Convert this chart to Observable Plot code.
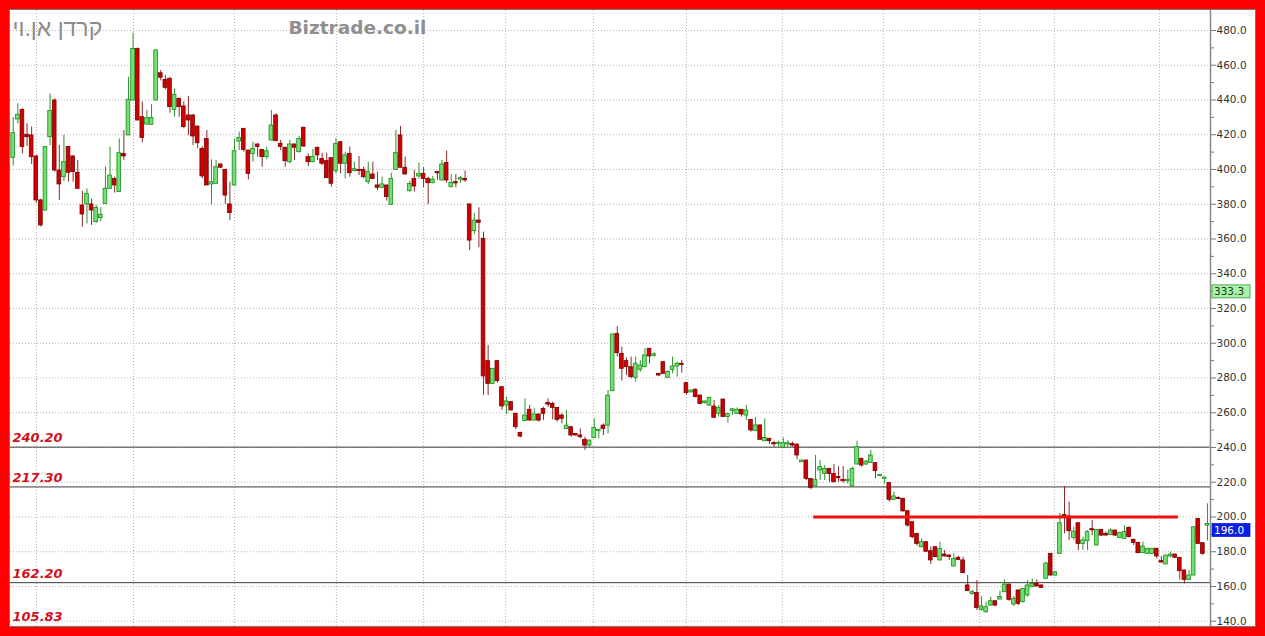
<!DOCTYPE html>
<html><head><meta charset="utf-8">
<script src="https://cdn.jsdelivr.net/npm/d3@7"></script>
<script src="https://cdn.jsdelivr.net/npm/@observablehq/plot@0.6"></script>
<style>
html,body{margin:0;padding:0;background:#ff0000;width:1265px;height:636px;overflow:hidden}
#panel{position:absolute;left:10px;top:10px;width:1245px;height:616px;background:#fff;box-shadow:0 0 0 1px #777}
#panel svg{display:block}
</style></head><body><div id="panel"></div>
<script>
const title = "קרדן אן.וי";
const watermark = "Biztrade.co.il";

const open = [
406.7,428.8,434.3,420,419.6,407.5,382.2,376.4,418.6,439.7,
399.4,395.6,412.9,407.5,398.1,379.3,379.9,379.9,369.7,372,
380.2,388.9,394.6,387,409,419.6,439.7,469.4,430.1,425.9,
425.7,439.7,455.4,451.6,452.2,434.3,440.7,436.3,431.1,431.1,
424.7,411.9,417.6,391.4,391.7,402.9,399.8,379.9,390.8,416.1,
423.4,410.9,409,414.4,411.3,407.1,416.7,431.1,414.8,412.5,
404.2,414.4,410,424,407.1,404.2,412.5,406.1,404.8,406.5,
399,415.7,403.3,409,399.1,399.8,399.8,392.7,397.1,390.8,
389.5,390.8,379.7,399.8,419.6,401,387.5,394.6,396,397.5,
394.6,392.1,398.5,393.7,403.7,389.8,392.7,394.2,394.6,379.9,
364.5,370.6,360.1,289.7,276.6,289.7,274.7,264.2,266.1,259.4,
248.4,255.2,261.7,255.5,259,262.2,265.7,265.1,262.8,258.4,
250.7,251.7,247.8,246.9,244.4,241.1,245.5,249.4,252.6,252.6,
272.4,305.4,293.9,289.7,286.2,280.1,284.7,286.2,296.8,292.8,
282.4,289.1,280.1,284.7,286.6,288.2,277,271.7,273.2,269.9,
265.5,264.2,263.6,259.4,267.6,257.5,261,259.4,261.7,258.4,
255.9,249.4,252.7,243.6,245,242.5,242,239.8,241.7,242.1,
241.7,231.5,232.5,221.9,217.6,226.8,224.8,227.7,224.8,223,
221.4,220.6,217.6,230.2,233.5,230.2,231.1,231,223.6,222,
219.5,209.9,211,210.5,203.3,197,190.3,182.6,185.5,180.3,
182.6,175,178.4,177.8,171.5,176.5,175,160.6,155.8,156.2,
146.6,145.2,149,151.5,152.5,156.7,161.1,149.6,157.7,151,
154.8,159.6,161.5,160.6,164.4,178.8,166.3,178.8,201.2,200.3,
188,196.4,184.5,186.1,193,183.6,192.6,190.3,189.7,192.2,
188,187.4,193.8,186.9,185,179.2,178.8,178.8,181.7,174.6,
172.7,177.3,178.4,176.5,169.2,163.8,166.3,198.9,184.9,195
];
const high = [
430,437.8,435,426.3,424.4,408,383,413,443.5,440.7,
413.8,419.6,413,408,405.2,387.5,388.9,383.1,379.3,378,
401.3,412.9,395.5,417.6,422.4,453.1,478.5,470,438.8,434,
437.4,469,457,454.1,453.1,446.4,441,438.8,442,431.5,
425,413.2,422.4,405.6,405.2,403,400,392.7,417.6,421.5,
423.5,411,415.7,414.8,411.5,412.9,434,432,416.7,412.8,
416.7,414.6,419,424.4,409,411.6,412.8,409.4,409.4,406.8,
417.7,416,410,412.9,404.2,407.5,401.3,404.2,404.2,398.5,
395.6,391,397.9,422.5,424.8,407.1,393.3,399.4,403.7,401,
395.6,396,398.7,405.2,410.5,397.1,397.1,396,399.1,380,
374.7,378,363.9,298.7,285.5,289.9,275,269,266.3,259.6,
248.8,268,264.2,262.2,259.2,263.2,268,266.1,263,259.4,
261.3,251.9,248,250.7,245.9,244.2,256.5,250.4,253.6,272.8,
305.4,309.6,297.7,291.6,292,292,290.1,296.8,297,294.5,
282.6,289.3,284.3,292,289.1,290.1,277.6,273,273.8,270.1,
266.7,268.8,267,264.2,267.8,259.6,262.5,262.8,261.9,264.2,
256.1,257.1,252.9,256.5,245.2,243.6,243.6,245.6,244,243,
241.9,232.7,232.7,222.1,235.4,232.5,229.6,227.9,230.2,229,
229,227,228.7,243.6,233.7,232.5,238.3,231.2,224.2,222.5,
219.7,214.3,211.5,210.7,203.5,197.2,190.5,187.4,185.7,182.6,
182.8,185.5,180.7,178.4,178.8,177.3,176.9,166.3,157.7,163.4,
154.2,151,153.8,151.7,157.3,163.8,161.3,154.2,158,158.8,
163.4,164.4,163.8,160.8,174,179,168.4,202.2,217.5,208.5,
194.1,196.6,188.4,192.2,198,192.8,192.8,191.3,193.2,192.4,
191.3,195.1,194.1,187.1,185.5,185.5,181.9,181.9,181.9,177.3,
178,179.8,178.6,176.7,169.4,169.2,194.3,199.1,185.1,207.6
];
const low = [
402,426.3,409,413.2,402.9,380.6,366.8,376,413.8,398.5,
382.2,393,392.7,392.7,388.5,366.8,368.7,367.8,369,370,
380,388.5,386.4,387,405.2,419.5,439.5,428,415.3,425.5,
425.5,439.5,451,445.8,432.4,430.1,430.1,423.4,419.6,413.8,
411.9,394.6,390.8,379.6,391.5,400.8,379.9,370.6,390.5,410.9,
410,394,404.2,407.1,401.3,405.6,416.5,416,410.9,401.3,
403.2,405.2,409.4,413,401.7,404,405.2,402.3,395,389.8,
397.5,397.5,394.6,395.6,398.5,396.5,394.6,391.4,394.4,387.9,
388.9,381.8,379.5,399.5,400.8,397,387,387,394.6,389.5,
379.7,391.8,393.7,393.5,392.1,389.4,389.4,392.1,392.7,353.4,
362.5,355,269.9,269.9,276.4,277,261.3,259,261.1,250.2,
245.6,255,255.3,255.3,254.6,255.5,263.2,255.9,254.6,253.6,
250.5,245.9,246.5,245,238.3,240.2,245.3,245,246.9,247.8,
272.2,292,278.2,281.4,279.5,277.6,283.4,286,288.2,292,
281.2,282.2,279.9,282.4,280.5,282.8,269.9,271.5,268.6,264.7,
265.1,263.6,256.5,257.5,257.3,254,258.5,259,257.5,255.5,
248.8,249.2,244.2,243.4,241.7,240.2,240.2,239.6,240.2,240.2,
232.9,231.3,221,215.6,217.4,221,221,220,219.8,220,
219.5,219,217.4,230,228.7,229.6,230.9,222,223,219,
208.5,209.7,210,202.8,194.1,187.4,183.3,182.2,179.8,172.7,
176.7,174.6,176.9,175,171.3,175,167.3,157.1,154.9,146.2,
145.8,144.6,148.8,148.5,152.3,156.5,151.5,148.5,149,150.4,
153.9,159.4,159.8,159,164.2,166.1,166.1,178.6,190.3,186.5,
186.5,180.7,180.7,180.7,189.3,183.4,188.8,189.1,189.3,188.8,
187.4,187.2,188,183.6,178.8,179,178.6,178.6,175.9,173.4,
172.5,176.5,176.3,163.8,161.5,163.6,166.1,184.3,177.8,186.1
];
const close = [
420.9,431.5,412.9,418.6,407.1,382.2,367.8,412.9,433.6,399.4,
391.4,404.2,398.1,398.5,388.9,374.1,386,376.4,377.9,374,
388.9,396.5,390.8,409.4,407.5,440.1,469.4,428.2,418.2,429.5,
429.7,468.5,452.8,447,435.9,443,435.9,424.4,428.2,419,
415.1,396,390.8,392.7,401.3,401,385,374.9,410.5,418.2,
411.3,397.5,411.9,413,407.1,410.5,425.3,416.3,412.9,404.8,
414.4,412.5,417.6,413.2,404.2,407.3,408.1,403.3,395,391.8,
414.8,403.3,408.1,397.9,400.2,399.4,395.6,398.5,394.6,389.5,
391.4,384.1,394.6,409.4,401,397.1,391.7,390.2,397.5,394.6,
392.1,394.2,397.9,402.9,393.7,392.3,392.1,395,393.7,359.1,
370.6,369.3,280.9,276.6,285.3,278.2,263.6,266.5,261.3,251.7,
246.3,258.4,255.5,259,255.5,259.4,264.7,262.8,255.9,256.5,
252.6,246.9,246.9,245.9,241.1,244,251.3,250.2,250.7,269.9,
305,294.3,285.3,286.2,280.5,288.2,287.2,293,292.4,293.6,
281.4,282.4,283.4,286.6,288.2,287.8,271.3,272.8,269,265.1,
266.5,268.6,257.1,262.8,257.5,259.4,262,261.7,259,261.3,
249.8,252.7,244.4,245.5,243.6,242,242.5,242.5,242.5,241.1,
235.4,232.5,221.9,216.8,221.4,228.7,227.7,224.8,220,222.5,
220.6,221.4,227.7,240.2,229.6,231.9,235.4,226.4,224,222.3,
209.9,211.8,210.5,203.2,195.1,188.4,184.5,185.7,180,175,
176.9,181.7,177.3,176.9,175.9,175.3,167.7,157.3,156.7,147.7,
148.5,148.1,151.5,149,153.9,161.1,152.3,152.9,150,158.6,
160.6,161.5,160,159.2,173.2,166.3,168.2,196.4,199.5,191.8,
191.6,184.5,186.5,191.3,192.5,192.6,189.3,189.3,192.2,189.3,
190.7,191.3,188.4,185,179.2,183,181.7,181.7,177.3,173.8,
177.8,178.4,176.5,168.8,163.8,166.3,194.1,184.5,178.8,196
];

// axis / grid / annotation values
const yTicks = d3.range(140, 481, 20);
const yMinorTicks = d3.range(150, 471, 20);
const gridX = [5.05, 26.1, 48, 70.1, 89, 106.8, 125.8, 146, 166.8, 188.7, 209.6, 225.8, 248.6];
const levels = [240.2, 217.3, 162.2];
const bottomLevel = 105.83;
const resistance = 200;
const resistanceFrom = 173.6, resistanceTo = 252.7;
const badges = [
  {v: 333.3, label: "333.3", fill: "#a6f5a6", stroke: "#3c8c3c", color: "#223322"},
  {v: 196.0, label: "196.0", fill: "#0a1fe0", stroke: "#0a1fe0", color: "#ffffff"}
];
const xDomain = [-0.586, 259.66];
const yDomain = [136.97, 491.51];

const data = open.map((o, i) => ({
  i, o, c: close[i],
  h: Math.max(high[i], o, close[i]),
  l: Math.min(low[i], o, close[i]),
  up: close[i] >= o
}));

const G_FILL = "#72e072", G_STROKE = "#1a8c1a";
const R_FILL = "#d00000", R_STROKE = "#7a0000";
const R_WICK = "#8a2a2a", G_WICK = "#2a962a";
const fmt1 = d3.format(".1f"), fmt2 = d3.format(".2f");
const lvlStyle = {fill: "#d0121c", fontSize: 13, fontWeight: "bold", fontStyle: "italic", textAnchor: "start", lineAnchor: "middle"};

const W = 1245, H = 616, MR = 45;
const chart = Plot.plot({
  width: W, height: H,
  marginLeft: 0, marginRight: MR, marginTop: 0, marginBottom: 0,
  style: {background: "transparent", fontFamily: "DejaVu Sans, Verdana, sans-serif", color: "#333"},
  x: {domain: xDomain, axis: null},
  y: {domain: yDomain, axis: null},
  marks: [
    Plot.ruleY(yTicks, {stroke: "#b5b5b5", strokeDasharray: "1,2"}),
    Plot.ruleX(gridX, {stroke: "#b5b5b5", strokeDasharray: "1,2"}),
    Plot.ruleY(levels, {stroke: "#3a3a3a", strokeWidth: 1}),
    Plot.text(levels, {y: d => d, text: d => fmt2(d), frameAnchor: "left", dx: 2, dy: -9, ...lvlStyle}),
    Plot.text([bottomLevel], {text: d => fmt2(d), frameAnchor: "bottom-left", dx: 2, dy: -10, ...lvlStyle}),
    Plot.text([title], {frameAnchor: "top-left", dx: 2, dy: 18, fontSize: 23, fontFamily: "Liberation Sans, Arial, sans-serif", fill: "#8c8c8c", textAnchor: "start", lineAnchor: "middle"}),
    Plot.text([watermark], {frameAnchor: "top-left", dx: 278, dy: 18, fontSize: 18.5, fontWeight: "bold", fill: "#8f8f8f", textAnchor: "start", lineAnchor: "middle"}),
    Plot.ruleX(data, {x: "i", y1: "l", y2: "h", stroke: d => d.up ? G_WICK : R_WICK, strokeWidth: 1}),
    Plot.rect(data, {
      x1: d => d.i - 0.4, x2: d => d.i + 0.4,
      y1: "o",
      y2: d => Math.abs(d.c - d.o) < 0.7 ? d.o + (d.up ? 0.7 : -0.7) : d.c,
      fill: d => d.up ? G_FILL : R_FILL,
      stroke: d => d.up ? G_STROKE : R_STROKE, strokeWidth: 0.8
    }),
    Plot.ruleY([resistance], {x1: resistanceFrom, x2: resistanceTo, stroke: "#f01010", strokeWidth: 3}),
    Plot.ruleX([xDomain[1]], {stroke: "#8a8a8a", strokeWidth: 1.5}),
    Plot.axisY(yMinorTicks, {anchor: "right", tickSize: 3, tickFormat: () => "", stroke: "#777"}),
    Plot.axisY(yTicks, {anchor: "right", tickSize: 5, tickPadding: 1, tickFormat: fmt1, fontSize: 10.5, stroke: "#777", fill: "#333"})
  ]
});
document.getElementById("panel").appendChild(chart);

// value badges on the right axis, positioned with the chart's own y scale
const ys = chart.scale("y");
const svg = d3.select(chart);
badges.forEach(b => {
  const y = ys.apply(b.v);
  const g = svg.append("g");
  g.append("rect").attr("x", W - MR + 2).attr("y", y).attr("width", 38).attr("height", 13)
    .attr("fill", b.fill).attr("stroke", b.stroke).attr("stroke-width", 0.8);
  g.append("text").attr("x", W - MR + 4).attr("y", y + 10.5)
    .attr("text-anchor", "start")
    .attr("font-size", 10.5).attr("font-family", "DejaVu Sans, Verdana, sans-serif")
    .attr("fill", b.color).text(b.label);
});
</script>
</body></html>
